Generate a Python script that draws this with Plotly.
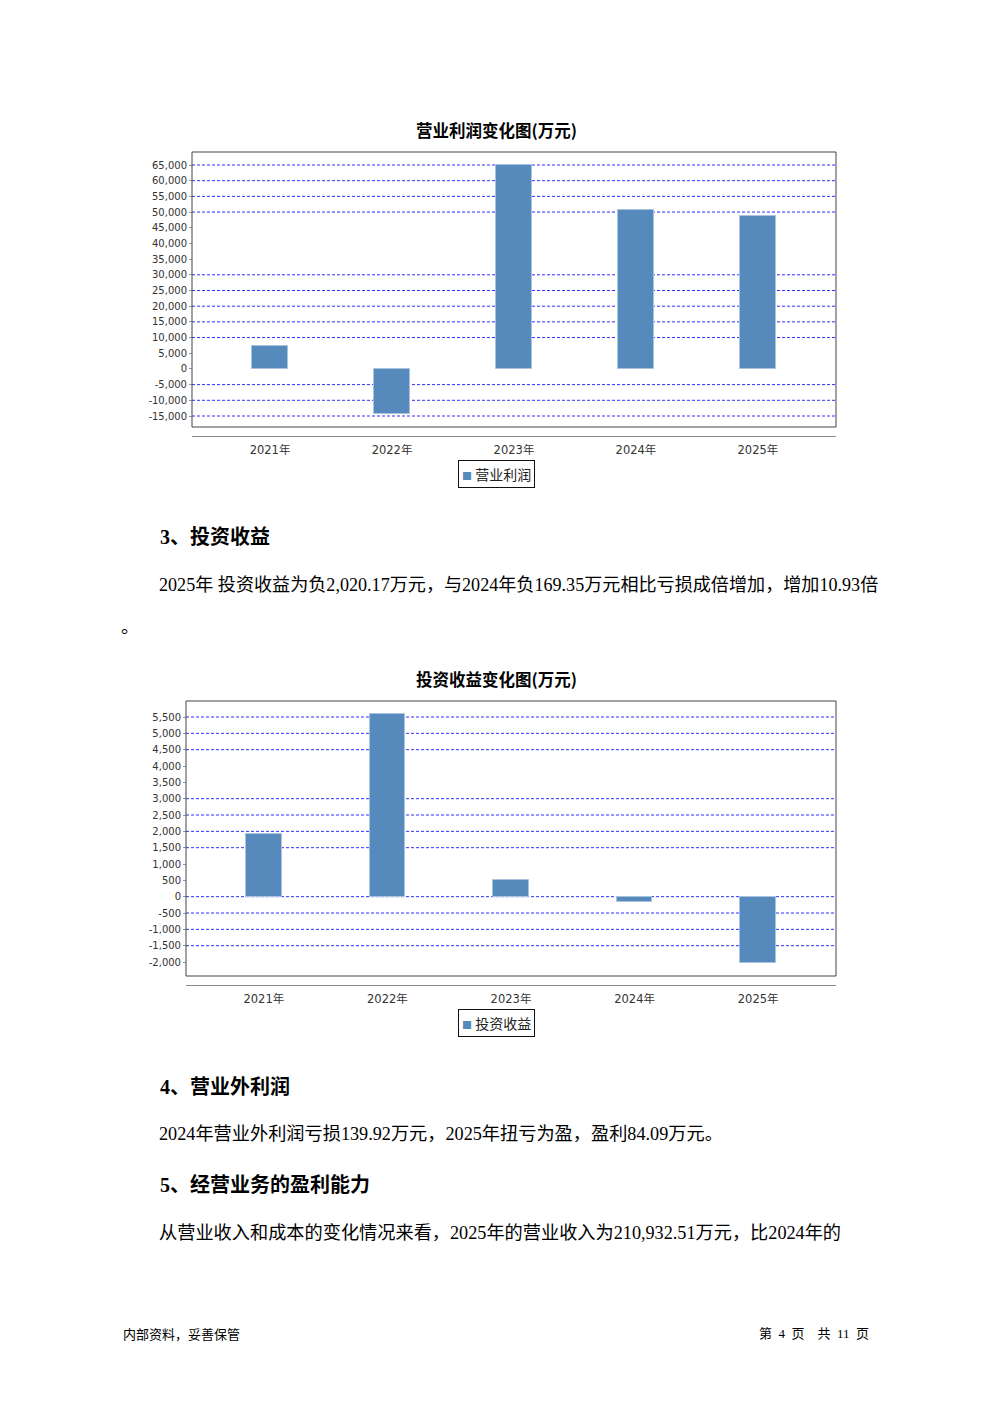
import plotly.graph_objects as go

# ---------------- data ----------------
years = ["2021年", "2022年", "2023年", "2024年", "2025年"]
op_profit = [7300, -14300, 65000, 50700, 48800]          # 营业利润(万元)
invest_income = [1930, 5600, 520, -169.35, -2020.17]      # 投资收益(万元)

op_ticks = [65000, 60000, 55000, 50000, 45000, 40000, 35000, 30000, 25000,
            20000, 15000, 10000, 5000, 0, -5000, -10000, -15000]
op_grid = [65000, 60000, 55000, 50000, 30000, 25000, 20000, 15000, 10000,
           -5000, -10000, -15000]
inv_ticks = [5500, 5000, 4500, 4000, 3500, 3000, 2500, 2000, 1500, 1000, 500,
             0, -500, -1000, -1500, -2000]
inv_grid = [5500, 5000, 4500, 3000, 2500, 2000, 1500, 0, -500, -1000, -1500]

title1 = "营业利润变化图(万元)"
title2 = "投资收益变化图(万元)"
legend1 = "营业利润"
legend2 = "投资收益"

NB = "\u00a0"
texts = {
    "h3": "3、投资收益",
    "p3": "2025年 投资收益为负2,020.17万元，与2024年负169.35万元相比亏损成倍增加，增加10.93倍",
    "p3b": "。",
    "h4": "4、营业外利润",
    "p4": "2024年营业外利润亏损139.92万元，2025年扭亏为盈，盈利84.09万元。",
    "h5": "5、经营业务的盈利能力",
    "p5": "从营业收入和成本的变化情况来看，2025年的营业收入为210,932.51万元，比2024年的",
    "fl": "内部资料，妥善保管",
    "fr": f"第{NB*2}4{NB*2}页{NB*4}共{NB*2}11{NB*2}页",
}

# ---------------- layout helpers ----------------
W, H = 992, 1403
def px(x):
    return x / W
def py(y):
    return 1 - y / H

BAR = "#5689bc"
GRID = "#3030ff"
TICKFONT = dict(family="DejaVu Sans, Noto Sans CJK SC", size=10, color="#333333")
XFONT = dict(family="DejaVu Sans, Noto Sans CJK SC", size=11.5, color="#333333")
CJK = "Noto Sans CJK SC"
BODY = "Liberation Serif, Noto Sans CJK SC"

fig = go.Figure()
fig.add_trace(go.Bar(x=years, y=op_profit, xaxis="x", yaxis="y", width=0.295,
                     marker=dict(color=BAR, line=dict(color="#a9c4de", width=1)),
                     name=legend1, showlegend=False))
fig.add_trace(go.Bar(x=years, y=invest_income, xaxis="x2", yaxis="y2", width=0.29,
                     marker=dict(color=BAR, line=dict(color="#a9c4de", width=1)),
                     name=legend2, showlegend=False))

charts = [
    ("x", "y", 192, 836, 152, 427, 436, [-18506, 69143], [-0.64, 4.64], op_ticks),
    ("x2", "y2", 186, 836, 701, 976, 985, [-2428, 5990], [-0.63, 4.63], inv_ticks),
]

layout = dict(
    width=W, height=H, margin=dict(l=0, r=0, t=0, b=0),
    paper_bgcolor="white", plot_bgcolor="white", showlegend=False,
    bargap=0,
)
shapes = []
for xa, ya, l, r, t, b, axy, yr, xr, tv in charts:
    xkey = "xaxis" if xa == "x" else "xaxis2"
    ykey = "yaxis" if ya == "y" else "yaxis2"
    layout[xkey] = dict(domain=[px(l), px(r)], anchor="free", position=py(axy),
                        range=xr, type="category", showline=True, linecolor="#8a8a8a",
                        linewidth=1, showgrid=False, zeroline=False, ticks="",
                        ticklabelstandoff=3,
                        tickfont=XFONT, fixedrange=True)
    layout[ykey] = dict(domain=[py(b), py(t)], anchor="free",
                        position=px(l), range=yr, showgrid=False, zeroline=False,
                        tickvals=tv, ticktext=[f"{v:,}" for v in tv],
                        ticks="outside", ticklen=3, tickcolor="#999999",
                        tickfont=TICKFONT, showline=False)
    shapes.append(dict(type="rect", xref="paper", yref="paper",
                       x0=px(l), x1=px(r), y0=py(b), y1=py(t),
                       line=dict(color="#444444", width=1), layer="above"))

for g in op_grid:
    shapes.append(dict(type="line", xref="x domain", yref="y", x0=0, x1=1, y0=g, y1=g,
                       line=dict(color=GRID, width=1, dash="3px,2px"), layer="below"))
for g in inv_grid:
    shapes.append(dict(type="line", xref="x2 domain", yref="y2", x0=0, x1=1, y0=g, y1=g,
                       line=dict(color=GRID, width=1, dash="3px,2px"), layer="below"))
layout["shapes"] = shapes

ann = []
def add(text, x, y, size, family=BODY, bold=False, xanchor="left", color="black", **kw):
    t = f"<b>{text}</b>" if bold else text
    ann.append(dict(text=t, x=px(x), y=py(y), xref="paper", yref="paper",
                    xanchor=xanchor, yanchor="middle", showarrow=False,
                    font=dict(family=family, size=size, color=color), **kw))

add(title1, 496, 130, 16.5, family=CJK, bold=True, xanchor="center")
add(title2, 496, 679, 16.5, family=CJK, bold=True, xanchor="center")

for lg, cy in [(legend1, 473.5), (legend2, 1022.5)]:
    ann.append(dict(text=f"<span style='font-size:10px;color:{BAR}'>■</span>{NB}{lg}",
                    x=px(496), y=py(cy), xref="paper", yref="paper",
                    xanchor="center", yanchor="middle", showarrow=False,
                    font=dict(family=CJK, size=14, color="#222222"),
                    bordercolor="#111111", borderwidth=1, borderpad=3,
                    bgcolor="white"))

add(texts["h3"], 158, 537, 20, family=BODY, bold=True)
add(texts["p3"], 157, 585, 18.1)
add(texts["p3b"], 119, 627, 18)
add(texts["h4"], 158, 1086, 20, family=BODY, bold=True)
add(texts["p4"], 157, 1134, 18.2)
add(texts["h5"], 158, 1185, 20, family=BODY, bold=True)
add(texts["p5"], 157, 1233, 18.2)
add(texts["fl"], 121, 1333, 13, family=CJK)
add(texts["fr"], 871, 1333, 13, family=BODY, xanchor="right")
layout["annotations"] = ann

fig.update_layout(**layout)
fig.write_html("out.html", config={"displayModeBar": False},
               post_script="document.body.style.margin='0';document.body.style.overflow='hidden';")
